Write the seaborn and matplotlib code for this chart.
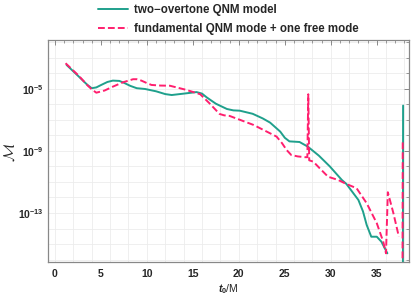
import numpy as np
import pandas as pd
import seaborn as sns
import matplotlib.pyplot as plt
from matplotlib.ticker import MultipleLocator, FixedLocator, FuncFormatter

# two-overtone QNM model: t0/M and log10 of mismatch
t_two = [1.27, 2.6, 3.5, 4.0, 4.5, 5.0, 5.7, 6.3, 7.0, 7.5, 8.2, 8.9, 9.8, 11.0, 12.0, 12.7,
         14.0, 15.4, 16.0, 16.5, 17.5, 18.7, 19.4, 20.1, 21.5, 22.6, 23.4, 24.5, 25.0, 25.5,
         26.6, 27.5, 28.7, 29.9, 31.2, 31.7, 33.0, 33.5, 33.9, 34.4, 35.0, 35.5, 36.15,
         np.nan, 37.84, 37.86]
logm_two = [-3.45, -4.2, -4.72, -4.95, -4.9, -4.75, -4.55, -4.46, -4.48, -4.6, -4.8, -4.95,
            -5.0, -5.15, -5.33, -5.39, -5.3, -5.2, -5.3, -5.54, -5.95, -6.29, -6.38, -6.4,
            -6.6, -6.9, -7.17, -7.75, -8.15, -8.38, -8.42, -8.72, -9.3, -10.0, -10.87,
            -11.13, -12.16, -12.9, -13.77, -14.53, -14.53, -14.85, -15.6, np.nan, -17.0, -6.07]

# fundamental QNM mode + one free mode
t_free = [1.16, 2.6, 3.6, 4.0, 4.5, 5.4, 6.3, 7.4, 8.5, 8.9, 9.4, 10.0, 10.5, 11.5, 12.5,
          14.3, 15.8, 16.8, 17.9, 18.4, 19.0, 21.6, 24.1, 24.7, 25.2, 25.7, 26.4, 27.2, 27.45,
          27.55, 27.65, 28.1, 28.8, 29.7, 30.8, 31.7, 32.8, 33.9, 35.0, 35.7, 36.0, 36.2,
          36.8, 37.4, np.nan, 37.8, 37.82]
logm_free = [-3.34, -4.15, -4.8, -5.02, -5.24, -5.1, -4.85, -4.57, -4.37, -4.37, -4.46, -4.62,
             -4.74, -4.78, -4.79, -5.06, -5.34, -5.92, -6.61, -6.7, -6.74, -7.32, -8.07, -8.5,
             -8.94, -9.26, -9.35, -9.4, -9.4, -5.34, -9.6, -9.69, -10.12, -10.66, -10.87,
             -11.13, -11.4, -12.37, -13.66, -14.85, -15.6, -11.66, -13.0, -14.53, np.nan,
             -15.92, -8.25]

labels = ['two\u2212overtone QNM model', 'fundamental QNM mode + one free mode']
colors = ['#1fa08c', '#ff1f6e']
y_tick_exp = [-13, -9, -5]

sns.set_style('white')
plt.rcParams['font.family'] = ['Liberation Sans', 'DejaVu Sans']
plt.rcParams['font.weight'] = 'bold'
plt.rcParams['mathtext.fontset'] = 'custom'
plt.rcParams['mathtext.rm'] = 'Liberation Sans:bold'
plt.rcParams['mathtext.bf'] = 'Liberation Sans:bold'
plt.rcParams['mathtext.it'] = 'Liberation Sans:italic:bold'


def segments(t, logm):
    df = pd.DataFrame({'t': t, 'm': np.power(10.0, logm)})
    df['seg'] = df['t'].isna().cumsum()
    return [g.dropna() for _, g in df.groupby('seg')]


fig = plt.figure(figsize=(4.15, 2.96), dpi=100)
ax = fig.add_axes([0.1157, 0.1149, 0.8698, 0.75])

handles = []
for (t, logm), lab, col, dashed in zip([(t_two, logm_two), (t_free, logm_free)], labels, colors, [False, True]):
    for seg in segments(t, logm):
        sns.lineplot(data=seg, x='t', y='m', ax=ax, color=col, lw=1.4,
                     estimator=None, sort=False, legend=False)
        line = ax.lines[-1]
        if dashed:
            line.set_dashes((3.5, 1.6))
    handles.append(line)

ax.set_yscale('log')
ax.set_xlim(-0.75, 38.5)
ax.set_ylim(10 ** -16.16, 10 ** -1.84)

# light grid: every 2 in t0, every decade in mismatch
for gx in np.arange(0, 39, 2):
    ax.axvline(gx, color='#ececec', lw=0.6, zorder=0)
for gy in np.arange(-16, -1):
    ax.axhline(10.0 ** gy, color='#ececec', lw=0.6, zorder=0)

ax.xaxis.set_major_locator(MultipleLocator(5))
ax.xaxis.set_minor_locator(MultipleLocator(1))
ax.yaxis.set_major_locator(FixedLocator([10.0 ** e for e in y_tick_exp]))
ax.yaxis.set_minor_locator(FixedLocator([10.0 ** e for e in range(-16, -1)]))
ax.yaxis.set_major_formatter(FuncFormatter(lambda v, p: r'$\mathbf{10^{%d}}$' % round(np.log10(v))))
ax.yaxis.set_minor_formatter(FuncFormatter(lambda v, p: ''))
ax.tick_params(which='both', direction='in', top=True, right=True, color='#888888',
               labelsize=7.5)
ax.tick_params(axis='x', pad=5)
ax.tick_params(axis='y', pad=3)
ax.tick_params(which='major', length=3.5, width=0.7)
ax.tick_params(which='minor', length=2, width=0.6)
for s in ax.spines.values():
    s.set_color('#888888')
    s.set_linewidth(0.9)

ax.set_xlabel(r'$t_0$/M', fontsize=7.5, labelpad=2)
ax.set_ylabel(r'$\mathcal{M}$', fontsize=11, math_fontfamily='cm')
ax.yaxis.set_label_coords(-0.085, 0.495)

fig.legend(handles=handles, labels=labels, loc='upper left', bbox_to_anchor=(0.236, 0.985),
           frameon=False, fontsize=8.3, handlelength=2.6, handletextpad=0.5,
           labelspacing=0.6, borderpad=0, borderaxespad=0)

fig.savefig('out.png', dpi=100)
